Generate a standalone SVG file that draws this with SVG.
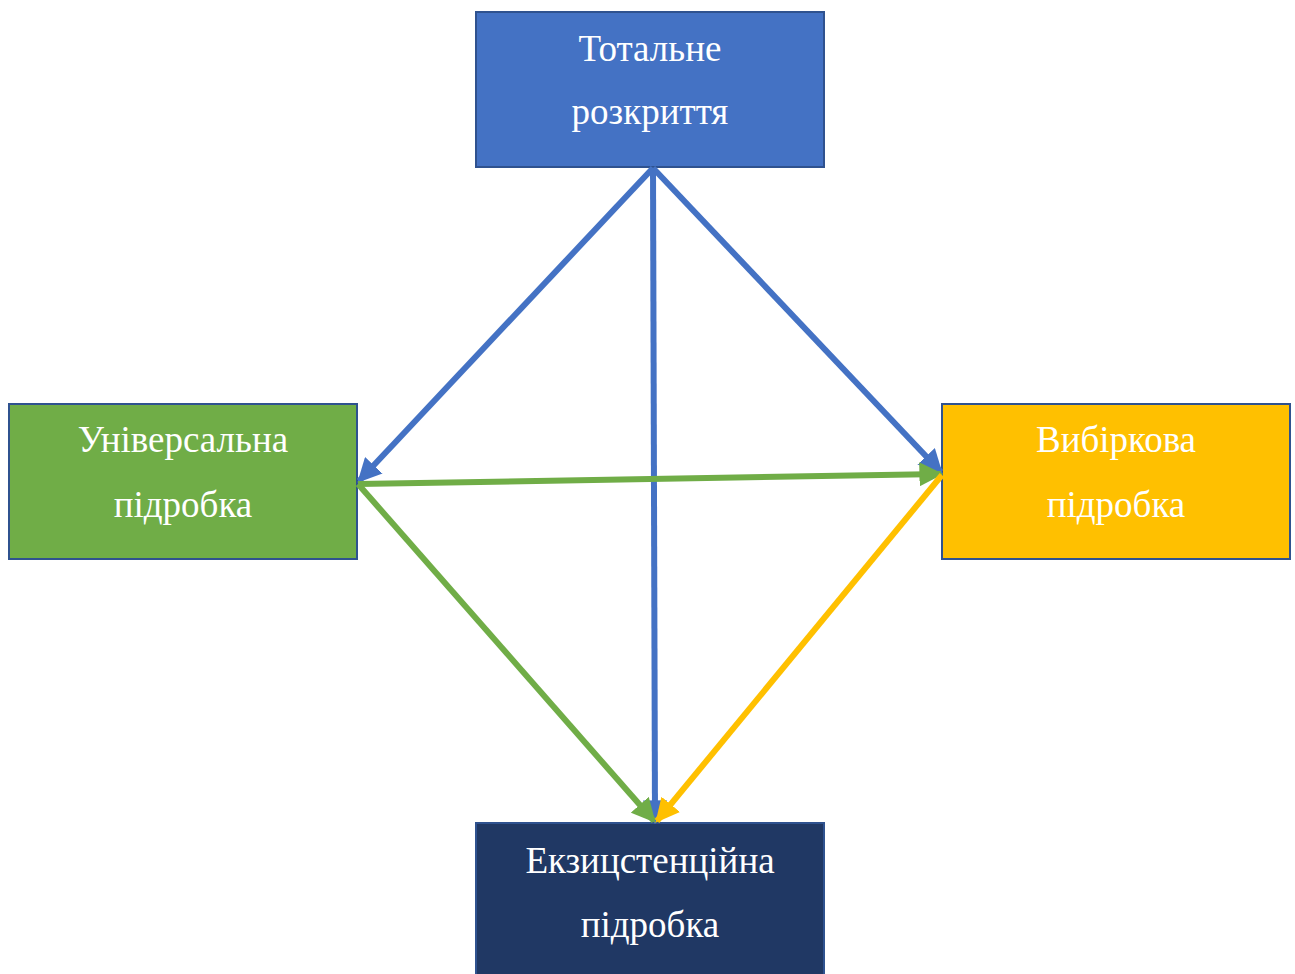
<svg xmlns="http://www.w3.org/2000/svg" width="1295" height="974" viewBox="0 0 1295 974">
  <style>
    .box { stroke: #2F528F; stroke-width: 2; }
    .label { font-family: "Liberation Serif", "Times New Roman", serif; font-size: 37px; fill: #FFFFFF; text-anchor: middle; }
    .link { fill: none; stroke-width: 6; stroke-linecap: butt; }
  </style>
  <defs>
    <marker id="ah-blue" viewBox="0 0 10 10" refX="9" refY="5" markerWidth="24" markerHeight="24" markerUnits="userSpaceOnUse" orient="auto">
      <path d="M0,0 L10,5 L0,10 Z" fill="#4472C4"/>
    </marker>
    <marker id="ah-green" viewBox="0 0 10 10" refX="9" refY="5" markerWidth="24" markerHeight="24" markerUnits="userSpaceOnUse" orient="auto">
      <path d="M0,0 L10,5 L0,10 Z" fill="#70AD47"/>
    </marker>
    <marker id="ah-yellow" viewBox="0 0 10 10" refX="9" refY="5" markerWidth="24" markerHeight="24" markerUnits="userSpaceOnUse" orient="auto">
      <path d="M0,0 L10,5 L0,10 Z" fill="#FFC000"/>
    </marker>
  </defs>

  <rect width="1295" height="974" fill="#FFFFFF"/>

  <g id="node-total">
    <rect class="box" x="476" y="12" width="348" height="155" fill="#4472C4"/>
    <text class="label" x="650" y="61">Тотальне</text>
    <text class="label" x="650" y="124">розкриття</text>
  </g>

  <g id="node-universal">
    <rect class="box" x="9" y="404" width="348" height="155" fill="#70AD47"/>
    <text class="label" x="183" y="452">Універсальна</text>
    <text class="label" x="183" y="517">підробка</text>
  </g>

  <g id="node-selective">
    <rect class="box" x="942" y="404" width="348" height="155" fill="#FFC000"/>
    <text class="label" x="1116" y="452">Вибіркова</text>
    <text class="label" x="1116" y="517">підробка</text>
  </g>

  <g id="node-existential">
    <rect class="box" x="476" y="823" width="348" height="160" fill="#203864"/>
    <text class="label" x="650" y="873">Екзицстенційна</text>
    <text class="label" x="650" y="937">підробка</text>
  </g>

  <g id="connectors">
    <line class="link" x1="653" y1="168" x2="359" y2="481" stroke="#4472C4" marker-end="url(#ah-blue)"/>
    <line class="link" x1="653" y1="168" x2="941" y2="472" stroke="#4472C4" marker-end="url(#ah-blue)"/>
    <line class="link" x1="653" y1="168" x2="655" y2="822" stroke="#4472C4" marker-end="url(#ah-blue)"/>
    <line class="link" x1="358" y1="484" x2="941" y2="474" stroke="#70AD47" marker-end="url(#ah-green)"/>
    <line class="link" x1="358" y1="484" x2="654" y2="821" stroke="#70AD47" marker-end="url(#ah-green)"/>
    <line class="link" x1="942" y1="475" x2="657" y2="821" stroke="#FFC000" marker-end="url(#ah-yellow)"/>
  </g>
</svg>
